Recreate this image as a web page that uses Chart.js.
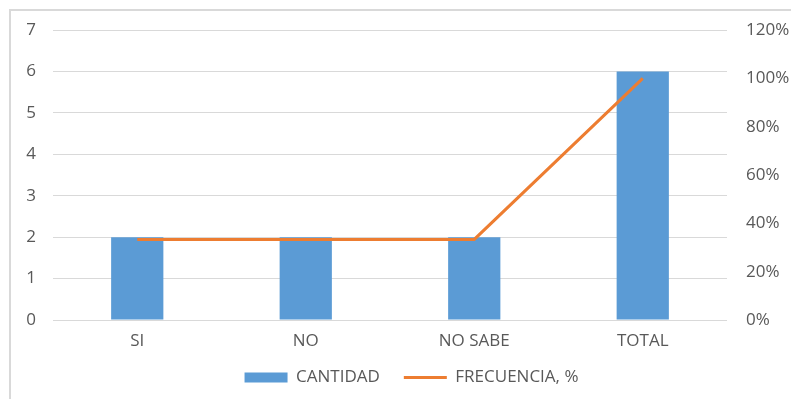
<!DOCTYPE html>
<html><head><meta charset="utf-8">
<script src="https://cdn.jsdelivr.net/npm/chart.js@4"></script>
<style>
html,body{margin:0;padding:0;background:#fff;}
#wrap{position:relative;width:791px;height:399px;}
#frame{position:absolute;left:9px;top:9px;right:0;bottom:0;border-left:2px solid #d9d9d9;border-top:2px solid #d9d9d9;}
canvas{position:absolute;left:0;top:0;}
</style></head>
<body><div id="wrap"><div id="frame"></div><canvas id="c" width="791" height="399"></canvas></div>
<script>
const categories = ['SI', 'NO', 'NO SABE', 'TOTAL'];
const cantidad = [2, 2, 2, 6];
const frecuencia = [33.33, 33.33, 33.33, 100];
const leftTicks = [0, 1, 2, 3, 4, 5, 6, 7];
const rightTicks = [0, 20, 40, 60, 80, 100, 120];

const font = {family: "'Open Sans',sans-serif", size: 17};
const txt = '#595959';

const shiftLegend = {
  id: 'shiftLegend',
  afterLayout(chart) {
    if (chart.legend) { chart.legend.left += 16; chart.legend.right += 16; }
  }
};

new Chart(document.getElementById('c'), {
  data: {
    labels: categories,
    datasets: [
      {type: 'line', label: 'FRECUENCIA, %', data: frecuencia, yAxisID: 'y2',
       borderColor: '#ED7D31', backgroundColor: '#ED7D31', borderWidth: 3,
       pointRadius: 0, pointHoverRadius: 0, pointStyle: 'line', tension: 0, order: 0},
      {type: 'bar', label: 'CANTIDAD', data: cantidad, yAxisID: 'y',
       backgroundColor: '#5B9BD5', borderWidth: 0, pointStyle: 'rect',
       barPercentage: 0.31, categoryPercentage: 1, order: 1}
    ]
  },
  plugins: [shiftLegend],
  options: {
    responsive: false, animation: false,
    layout: {padding: {left: 0, right: 0, top: 30, bottom: 3}},
    plugins: {
      tooltip: {enabled: false},
      legend: {
        position: 'bottom', reverse: true,
        labels: {usePointStyle: true, pointStyleWidth: 43, boxHeight: 10, color: txt, font: font, padding: 24}
      }
    },
    scales: {
      x: {
        grid: {display: false, drawTicks: false}, border: {display: false},
        ticks: {color: txt, font: font, padding: 11},
        afterFit: s => { s.height = 25; s._computeLabelArea = () => undefined; }
      },
      y: {
        position: 'left', min: 0, max: 7,
        afterBuildTicks: s => { s.ticks = leftTicks.map(v => ({value: v})); },
        grid: {color: '#d9d9d9', lineWidth: 1, drawTicks: false},
        border: {display: false},
        ticks: {color: txt, font: font, padding: 17},
        afterFit: s => { s.width = 53; }
      },
      y2: {
        position: 'right', min: 0, max: 120,
        afterBuildTicks: s => { s.ticks = rightTicks.map(v => ({value: v})); },
        grid: {display: false, drawTicks: false}, border: {display: false},
        ticks: {color: txt, font: font, padding: 19, callback: v => v + '%'},
        afterFit: s => { s.width = 64; }
      }
    }
  }
});
</script></body></html>
